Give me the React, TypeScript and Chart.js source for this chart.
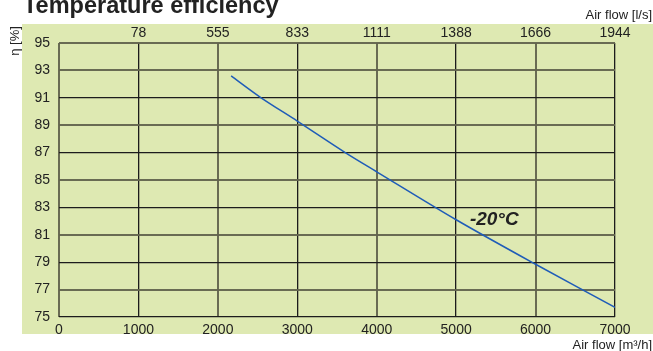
import React, { useEffect, useRef } from "react";
import { Chart, registerables } from "chart.js";

Chart.register(...registerables);

const airFlowM3h = [2167, 2545, 3000, 3604, 4000, 5000, 6000, 7000];
const efficiency = [92.6, 91.0, 89.3, 87.0, 85.6, 82.1, 78.85, 75.7];
const topTickLabels = ["", "78", "555", "833", "1111", "1388", "1666", "1944"];
const seriesLabel = "-20°C";
const labelPos = { x: 5480, y: 82.1 };

const FONT = "'Liberation Sans', Arial, sans-serif";
const GRAY = "rgba(98,100,78,0.95)";
const BLACK = "#1c1c1c";

export default function App() {
  const ref = useRef<HTMLCanvasElement | null>(null);

  useEffect(() => {
    if (!ref.current) return;
    const bgPlugin = {
      id: "bg",
      beforeDraw(chart: any) {
        const ctx = chart.ctx;
        ctx.save();
        ctx.fillStyle = "#dee9b2";
        ctx.fillRect(22, 24, 653 - 22, 334 - 24);
        ctx.restore();
      },
      afterDraw(chart: any) {
        const ctx = chart.ctx;
        ctx.save();
        ctx.fillStyle = "#222";
        ctx.textBaseline = "alphabetic";
        ctx.textAlign = "left";
        ctx.font = `bold 23.5px ${FONT}`;
        ctx.fillText("Temperature efficiency", 23, 13);
        ctx.font = `13px ${FONT}`;
        ctx.textAlign = "right";
        ctx.fillText("Air flow [l/s]", 652, 19);
        ctx.fillText("Air flow [m³/h]", 652, 349);
        ctx.save();
        ctx.translate(19, 41);
        ctx.rotate(-Math.PI / 2);
        ctx.textAlign = "center";
        ctx.fillText("η [%]", 0, 0);
        ctx.restore();
        const xs = chart.scales.x;
        const ys = chart.scales.y;
        ctx.font = `italic bold 19px ${FONT}`;
        ctx.textAlign = "center";
        ctx.textBaseline = "middle";
        ctx.fillText(seriesLabel, xs.getPixelForValue(labelPos.x), ys.getPixelForValue(labelPos.y));
        ctx.restore();
      },
    };

    const chart = new Chart(ref.current, {
      type: "line",
      data: {
        datasets: [
          {
            label: seriesLabel,
            data: airFlowM3h.map((x, i) => ({ x, y: efficiency[i] })),
            borderColor: "#1f5cb8",
            borderWidth: 1.5,
            pointRadius: 0,
            tension: 0.3,
            fill: false,
          },
        ],
      },
      options: {
        animation: false,
        responsive: false,
        maintainAspectRatio: false,
        layout: { padding: { left: 0, right: 38, top: 0, bottom: 0 } },
        plugins: { legend: { display: false }, tooltip: { enabled: false } },
        scales: {
          x: {
            type: "linear",
            position: "bottom",
            min: 0,
            max: 7000,
            ticks: {
              stepSize: 1000,
              color: "#222",
              font: { family: FONT, size: 14 },
              padding: 5,
              maxRotation: 0,
              callback: (v: any) => String(v),
            },
            grid: {
              drawTicks: false,
              color: (c: any) => ((c.tick && c.tick.value % 2000 === 0) ? GRAY : BLACK),
              lineWidth: (c: any) => ((c.tick && c.tick.value % 2000 === 0) ? 2 : 1.3),
            },
            border: { display: false },
            afterFit: (s: any) => {
              s.height = 34;
              s.paddingLeft = 0;
              s.paddingRight = 0;
            },
          },
          x2: {
            type: "linear",
            position: "top",
            min: 0,
            max: 7000,
            ticks: {
              stepSize: 1000,
              color: "#222",
              font: { family: FONT, size: 14 },
              padding: 1,
              maxRotation: 0,
              callback: (v: any) => topTickLabels[Math.round(Number(v) / 1000)] ?? "",
            },
            grid: { display: false, drawTicks: false },
            border: { display: false },
            afterFit: (s: any) => {
              s.height = 43;
              s.paddingLeft = 0;
              s.paddingRight = 0;
            },
          },
          y: {
            type: "linear",
            min: 75,
            max: 95,
            ticks: { stepSize: 2, color: "#222", font: { family: FONT, size: 14 }, padding: 9 },
            grid: {
              drawTicks: false,
              color: (c: any) => {
                const v = c.tick ? c.tick.value : 0;
                const idx = Math.round((v - 75) / 2);
                return idx % 2 === 1 || v === 95 ? GRAY : BLACK;
              },
              lineWidth: (c: any) => {
                const v = c.tick ? c.tick.value : 0;
                const idx = Math.round((v - 75) / 2);
                return idx % 2 === 1 || v === 95 ? 2 : 1.3;
              },
            },
            border: { display: false },
            afterFit: (s: any) => {
              s.width = 59;
              s.paddingTop = 0;
              s.paddingBottom = 0;
            },
          },
        },
      },
      plugins: [bgPlugin],
    } as any);
    return () => chart.destroy();
  }, []);

  return (
    <div style={{ position: "fixed", left: 0, top: 0, width: 653, height: 351, background: "#fff" }}>
      <canvas ref={ref} width={653} height={351} style={{ display: "block" }} />
    </div>
  );
}
